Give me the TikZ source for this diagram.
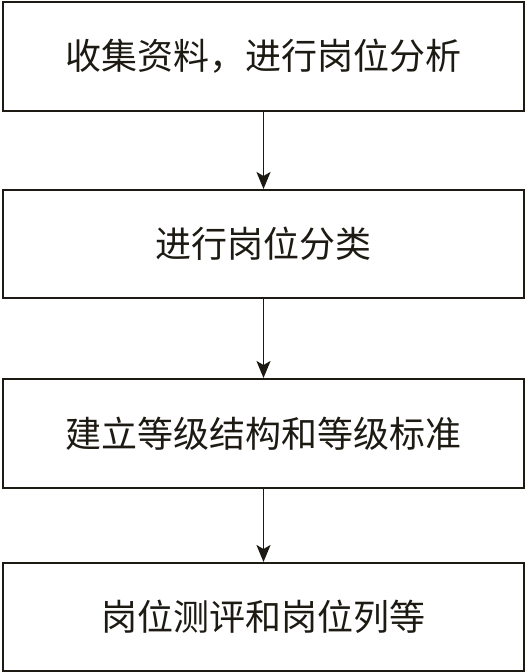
\documentclass[tikz,border=0pt]{standalone}
\usepackage{fontspec}
\newfontfamily\cjk{Noto Sans CJK SC}
\usetikzlibrary{arrows.meta}
\definecolor{ink}{HTML}{1C1A12}
\begin{document}
\begin{tikzpicture}[x=1pt,y=-1pt,
  stepbox/.style={draw=ink,line width=2pt,minimum width=521pt,minimum height=108pt,inner sep=0pt,font=\cjk\fontsize{36}{42}\selectfont,text=ink},
  conn/.style={draw=ink,line width=1.8pt,-{Stealth[length=17pt,width=14pt,inset=4pt]}}]
\useasboundingbox[fill=white] (0,0) rectangle (528,672);
\node[stepbox,minimum height=109pt] (a) at (263.5,56.5) {收集资料，进行岗位分析};
\node[stepbox] (b) at (263.5,244) {进行岗位分类};
\node[stepbox,minimum height=109pt] (c) at (263.5,433.5) {建立等级结构和等级标准};
\node[stepbox] (d) at (263.5,617) {岗位测评和岗位列等};
\draw[conn] (a) -- (b);
\draw[conn] (b) -- (c);
\draw[conn] (c) -- (d);
\end{tikzpicture}
\end{document}
